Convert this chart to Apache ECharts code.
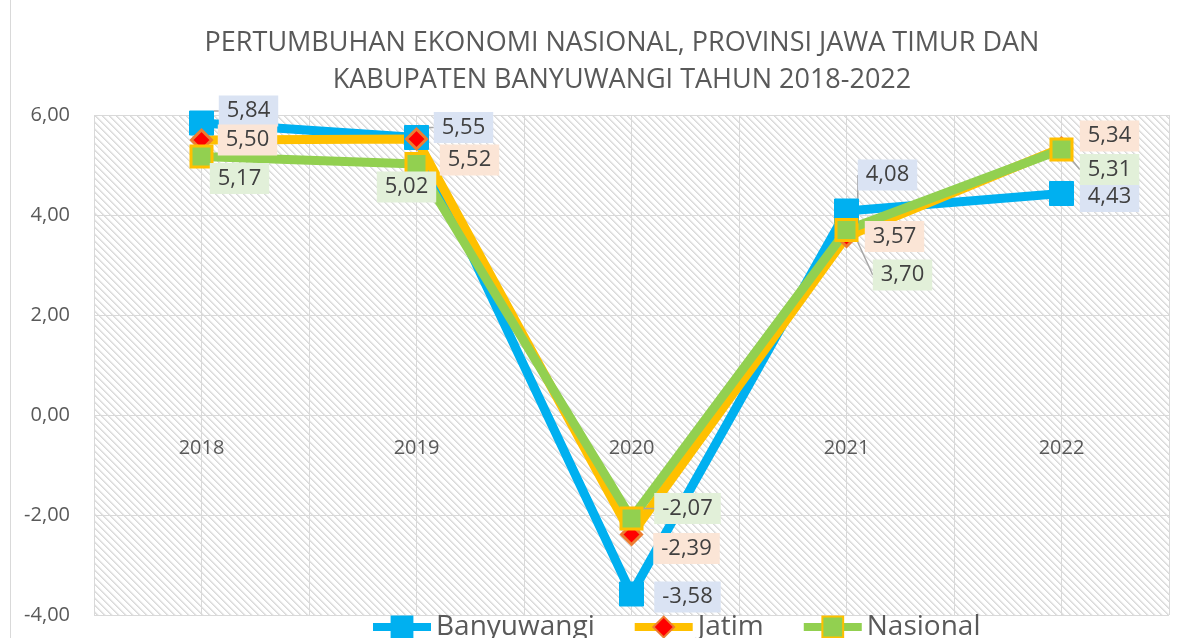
<!DOCTYPE html>
<html>
<head>
<meta charset="utf-8">
<script src="https://cdn.jsdelivr.net/npm/echarts@6/dist/echarts.min.js"></script>
<style>
  html, body { margin: 0; padding: 0; background: #fff; }
  #main { width: 1187px; height: 638px; }
</style>
</head>
<body>
<div id="main"></div>
<script>
var years = ['2018', '2019', '2020', '2021', '2022'];
var banyuwangi = [5.84, 5.55, -3.58, 4.08, 4.43];
var jatim = [5.50, 5.52, -2.39, 3.57, 5.34];
var nasional = [5.17, 5.02, -2.07, 3.70, 5.31];

// label offsets (dx, dy) from the point, per series
var offBwi = [[47, -12], [47, -10], [56, 3], [41, -36], [48, 3]];
var offJtm = [[46, 0], [53, 21], [55, 14], [48, 0], [48, -12]];
var offNas = [[38, 22], [-10, 23], [56, -10], [56, 45], [48, 20]];
var leaderBwi = [true, true, false, true, false];
var leaderJtm = [false, false, false, false, false];
var leaderNas = [false, false, true, true, true];

var FONT = 'Open Sans';

function fmt(v) { return v.toFixed(2).replace('.', ','); }

function hatch() {
    var s = 7;
    var c = document.createElement('canvas');
    c.width = s; c.height = s;
    var ctx = c.getContext('2d');
    var img = ctx.createImageData(s, s);
    for (var y = 0; y < s; y++) {
        for (var x = 0; x < s; x++) {
            var d = ((x - y) % s + s) % s;
            var v = d === 0 ? 218 : (d === 1 ? 228 : (d === 2 ? 246 : 255));
            var i = (y * s + x) * 4;
            img.data[i] = v; img.data[i + 1] = v; img.data[i + 2] = v; img.data[i + 3] = 255;
        }
    }
    ctx.putImageData(img, 0, 0);
    return c;
}

// x is the index of the year, so the value axis can carry half-step grid lines
function points(vals, leaders) {
    return vals.map(function (v, i) {
        return { value: [i, v], labelLine: { show: leaders[i] } };
    });
}

function mkSeries(name, vals, leaders, offs, lineColor, sym, symSize, fill, border, borderW, labelBg) {
    return {
        name: name,
        type: 'line',
        data: points(vals, leaders),
        symbol: sym,
        symbolSize: symSize,
        showAllSymbol: true,
        lineStyle: { color: lineColor, width: 9 },
        itemStyle: { color: fill, borderColor: border, borderWidth: borderW },
        color: lineColor,
        label: {
            show: true,
            position: 'inside',
            formatter: function (p) { return fmt(p.value[1]); },
            fontFamily: FONT,
            fontSize: 22,
            color: '#404040',
            backgroundColor: labelBg,
            padding: [5, 8, 4, 8]
        },
        labelLine: { show: false, lineStyle: { color: '#a6a6a6', width: 1.5 } },
        labelLayout: function (p) {
            var o = offs[p.dataIndex];
            return { dx: o[0], dy: o[1] };
        },
        emphasis: { disabled: true }
    };
}

var myChart = echarts.init(document.getElementById('main'));
var option = {
    animation: false,
    title: {
        text: 'PERTUMBUHAN EKONOMI NASIONAL, PROVINSI JAWA TIMUR DAN\nKABUPATEN BANYUWANGI TAHUN 2018-2022',
        left: 617,
        textAlign: 'center',
        top: 20,
        textStyle: { fontFamily: FONT, fontSize: 27, fontWeight: 'normal', color: '#595959', lineHeight: 37 }
    },
    legend: {
        data: ['Banyuwangi', 'Jatim', 'Nasional'],
        top: 608,
        left: 364,
        itemWidth: 58,
        itemHeight: 26,
        itemGap: 36,
        lineStyle: { width: 8 },
        textStyle: { fontFamily: FONT, fontSize: 28, color: '#595959' }
    },
    grid: {
        left: 94, right: 18, top: 115, bottom: 23,
        outerBoundsMode: 'none',
        containLabel: false,
        show: true,
        borderWidth: 0,
        backgroundColor: { image: hatch(), repeat: 'repeat' }
    },
    xAxis: {
        type: 'value',
        min: -0.5, max: 4.5, interval: 0.5,
        // labels sit under the zero line: grid height 500 * 4/10 above the bottom edge
        offset: -200,
        axisLine: { show: false, onZero: false },
        axisTick: { show: false },
        axisLabel: {
            fontFamily: FONT, fontSize: 20, color: '#595959', margin: 23,
            showMinLabel: false, showMaxLabel: false,
            formatter: function (v) { return Number.isInteger(v) ? years[v] : ''; }
        },
        splitLine: { show: true, lineStyle: { color: '#d9d9d9', width: 1 } }
    },
    yAxis: {
        type: 'value',
        min: -4, max: 6, interval: 2,
        axisLine: { show: false, onZero: false },
        axisTick: { show: false },
        axisLabel: { fontFamily: FONT, fontSize: 20, color: '#595959', margin: 24, formatter: fmt },
        splitLine: { lineStyle: { color: '#d9d9d9', width: 1 } }
    },
    graphic: [{
        type: 'line',
        shape: { x1: 10.5, y1: 0, x2: 10.5, y2: 638 },
        style: { stroke: '#d9d9d9', lineWidth: 1 }
    }],
    series: [
        mkSeries('Banyuwangi', banyuwangi, leaderBwi, offBwi, '#00B0F0', 'rect', 24, '#00B0F0', '#00B0F0', 1, '#DAE3F3'),
        mkSeries('Jatim', jatim, leaderJtm, offJtm, '#FFC000', 'diamond', 20, '#FF0000', '#ED7D31', 3, '#FBE5D6'),
        mkSeries('Nasional', nasional, leaderNas, offNas, '#92D050', 'rect', 21, '#92D050', '#FFC000', 3, '#E2F0D9')
    ]
};
myChart.setOption(option);
</script>
</body>
</html>
